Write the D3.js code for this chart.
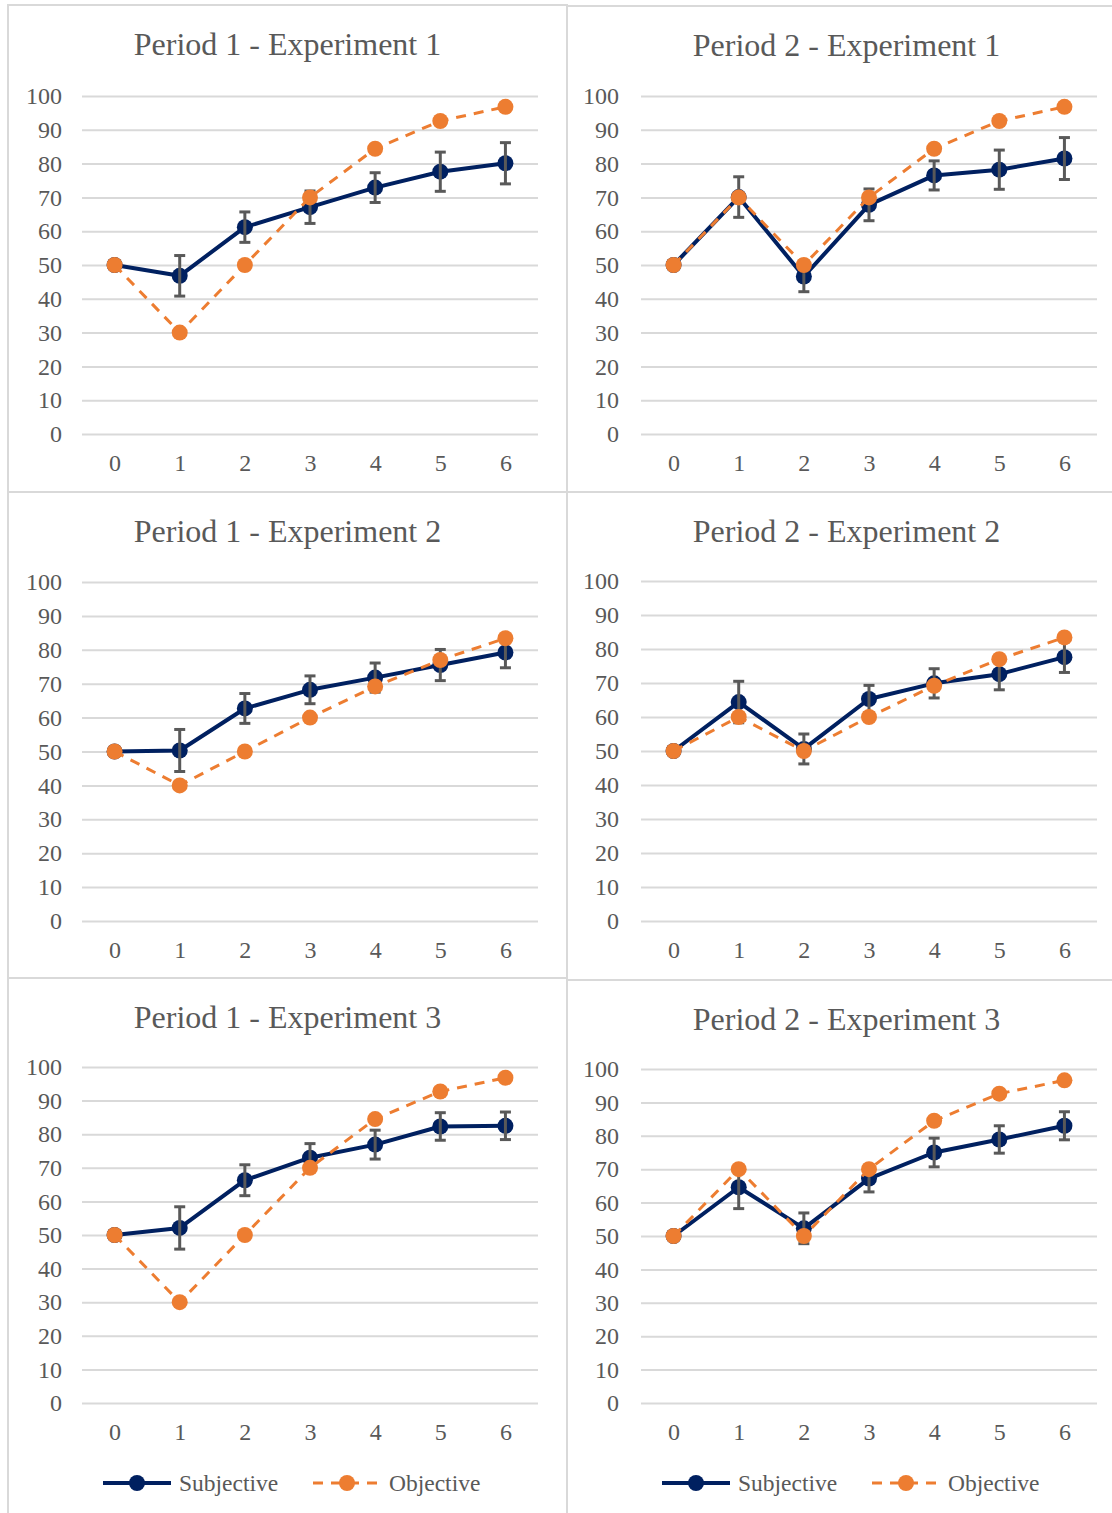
<!DOCTYPE html>
<html>
<head>
<meta charset="utf-8">
<script src="https://cdn.jsdelivr.net/npm/d3@7"></script>
<style>
  body { margin: 0; background: #fff; }
  svg { display: block; font-family: "Liberation Serif", "Times New Roman", serif; }
  .axis { font-family: "Liberation Serif", "Times New Roman", serif; }
  .axis text { fill: #595959; font-size: 24px; font-family: "Liberation Serif", "Times New Roman", serif; }
  .axis .domain { display: none; }
</style>
</head>
<body>
<div id="chart"></div>
<script>
// x categories (steps)
const steps = [0, 1, 2, 3, 4, 5, 6];
const yTicks = [0, 10, 20, 30, 40, 50, 60, 70, 80, 90, 100];

const titles = [
  "Period 1 - Experiment 1",
  "Period 2 - Experiment 1",
  "Period 1 - Experiment 2",
  "Period 2 - Experiment 2",
  "Period 1 - Experiment 3",
  "Period 2 - Experiment 3",
];

// one row per panel, same order as titles
const subjective = [
  [50, 46.8, 61.2, 67.1, 72.9, 77.6, 80.1],
  [50, 70.1, 46.6, 67.8, 76.5, 78.2, 81.5],
  [50, 50.3, 62.7, 68.2, 71.8, 75.5, 79.2],
  [50, 64.4, 50.6, 65.3, 69.9, 72.6, 77.6],
  [50, 52.1, 66.3, 73.0, 76.9, 82.3, 82.5],
  [50, 64.6, 52.3, 67.2, 75.0, 78.9, 83.0],
];

const subjectiveErr = [
  [0, 6.0, 4.5, 4.8, 4.4, 5.8, 6.1],
  [0, 6.0, 4.5, 4.7, 4.3, 5.8, 6.2],
  [0, 6.2, 4.4, 4.1, 4.3, 4.6, 4.5],
  [0, 6.1, 4.4, 4.0, 4.3, 4.6, 4.5],
  [0, 6.3, 4.6, 4.2, 4.3, 4.1, 4.1],
  [0, 6.4, 4.6, 4.0, 4.3, 4.1, 4.2],
];

const objective = [
  [50, 30, 50, 70, 84.4, 92.6, 96.8],
  [50, 70, 50, 70, 84.4, 92.6, 96.8],
  [50, 40, 50, 60, 69.2, 77.0, 83.4],
  [50, 60, 50, 60, 69.2, 77.0, 83.4],
  [50, 30, 50, 70, 84.5, 92.7, 96.8],
  [50, 70, 50, 70, 84.5, 92.6, 96.6],
];

const seriesNames = ["Subjective", "Objective"];

const width = 1112;
const height = 1513;
const navy = "#002060";
const orange = "#ED7D31";
const gray = "#595959";
const gridColor = "#d9d9d9";
const dotR = 8;

// panel boxes: [left, top, bottom, y of 100 line, y of 0 line]
const layout = [
  [8, 5, 492, 96, 434],
  [567, 6, 492, 96, 434],
  [8, 492, 978, 582, 921],
  [567, 492, 980, 581, 921],
  [8, 978, 1530, 1067, 1403],
  [567, 980, 1530, 1069, 1403],
];
const boxWidth = 559;
const plotOffset = 74;
const plotWidth = 456;

const svg = d3
  .select("#chart")
  .append("svg")
  .attr("width", width)
  .attr("height", height);

svg.append("rect").attr("width", width).attr("height", height).attr("fill", "#fff");

titles.forEach((title, p) => {
  const [bx, by, bb, y100, y0] = layout[p];
  const g = svg.append("g");

  // panel border
  g.append("rect")
    .attr("x", bx)
    .attr("y", by)
    .attr("width", boxWidth)
    .attr("height", bb - by)
    .attr("fill", "none")
    .attr("stroke", gridColor)
    .attr("stroke-width", 2);

  const left = bx + plotOffset;
  const xScale = d3
    .scalePoint()
    .domain(steps)
    .range([left, left + plotWidth])
    .padding(0.5);

  const yScale = d3.scaleLinear().domain([0, 100]).range([y0, y100]);

  // title
  g.append("text")
    .attr("x", bx + boxWidth / 2)
    .attr("y", by + 50)
    .attr("text-anchor", "middle")
    .attr("fill", gray)
    .style("font-size", "32px")
    .text(title);

  // y axis with gridlines
  const yAxis = g
    .append("g")
    .attr("class", "axis")
    .attr("transform", `translate(${left},0)`)
    .call(
      d3.axisLeft(yScale)
        .tickValues(yTicks)
        .tickSize(-plotWidth)
        .tickPadding(p % 2 ? 22 : 20)
    );
  yAxis.selectAll("line").attr("stroke", gridColor).attr("stroke-width", 2);

  // x axis
  g.append("g")
    .attr("class", "axis")
    .attr("transform", `translate(0,${y0})`)
    .call(d3.axisBottom(xScale).tickSize(0).tickPadding(20));

  const subj = steps.map((s, i) => ({ s, v: subjective[p][i], e: subjectiveErr[p][i] }));
  const obj = steps.map((s, i) => ({ s, v: objective[p][i] }));

  const line = d3.line().x((d) => xScale(d.s)).y((d) => yScale(d.v));

  // subjective line
  g.append("path")
    .datum(subj)
    .attr("d", line)
    .attr("fill", "none")
    .attr("stroke", navy)
    .attr("stroke-width", 4)
    .attr("stroke-linejoin", "round");

  // subjective markers
  g.selectAll(".subj-dot")
    .data(subj)
    .enter()
    .append("circle")
    .attr("cx", (d) => xScale(d.s))
    .attr("cy", (d) => yScale(d.v))
    .attr("r", dotR)
    .attr("fill", navy);

  // error bars
  const bars = g.selectAll(".err")
    .data(subj.filter((d) => d.e > 0))
    .enter()
    .append("g")
    .attr("stroke", gray)
    .attr("stroke-width", 3);
  bars.append("line")
    .attr("x1", (d) => xScale(d.s))
    .attr("x2", (d) => xScale(d.s))
    .attr("y1", (d) => yScale(d.v - d.e))
    .attr("y2", (d) => yScale(d.v + d.e));
  bars.append("line")
    .attr("x1", (d) => xScale(d.s) - 5.5)
    .attr("x2", (d) => xScale(d.s) + 5.5)
    .attr("y1", (d) => yScale(d.v + d.e))
    .attr("y2", (d) => yScale(d.v + d.e));
  bars.append("line")
    .attr("x1", (d) => xScale(d.s) - 5.5)
    .attr("x2", (d) => xScale(d.s) + 5.5)
    .attr("y1", (d) => yScale(d.v - d.e))
    .attr("y2", (d) => yScale(d.v - d.e));

  // objective dashed line
  g.append("path")
    .datum(obj)
    .attr("d", line)
    .attr("fill", "none")
    .attr("stroke", orange)
    .attr("stroke-width", 3)
    .attr("stroke-dasharray", "10,8");

  g.selectAll(".obj-dot")
    .data(obj)
    .enter()
    .append("circle")
    .attr("cx", (d) => xScale(d.s))
    .attr("cy", (d) => yScale(d.v))
    .attr("r", dotR)
    .attr("fill", orange);

  // legend on bottom row only
  if (p >= 4) {
    const ly = y0 + 80;
    const lx = bx + 95;
    const items = [
      { name: seriesNames[0], color: navy, dash: null, w: 4, x: lx },
      { name: seriesNames[1], color: orange, dash: "10,8", w: 3, x: lx + 210 },
    ];
    items.forEach((it) => {
      g.append("line")
        .attr("x1", it.x)
        .attr("x2", it.x + 68)
        .attr("y1", ly)
        .attr("y2", ly)
        .attr("stroke", it.color)
        .attr("stroke-width", it.w)
        .attr("stroke-dasharray", it.dash);
      g.append("circle")
        .attr("cx", it.x + 34)
        .attr("cy", ly)
        .attr("r", dotR)
        .attr("fill", it.color);
      g.append("text")
        .attr("x", it.x + 76)
        .attr("y", ly)
        .attr("dy", "0.35em")
        .attr("fill", gray)
        .style("font-size", "23.5px")
        .text(it.name);
    });
  }
});
</script>
</body>
</html>
